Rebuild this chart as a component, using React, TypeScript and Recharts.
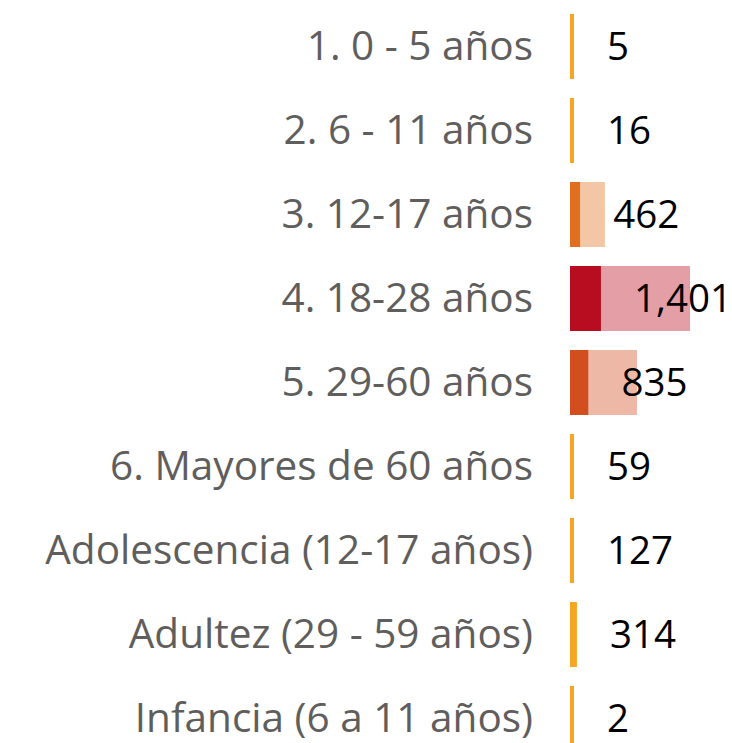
import React from "react";
import { BarChart, Bar, XAxis, YAxis, Cell, LabelList } from "recharts";

const categories = [
  "1. 0 - 5 años",
  "2. 6 - 11 años",
  "3. 12-17 años",
  "4. 18-28 años",
  "5. 29-60 años",
  "6. Mayores de 60 años",
  "Adolescencia (12-17 años)",
  "Adultez (29 - 59 años)",
  "Infancia (6 a 11 años)",
];
const highlighted = [5, 16, 462, 1401, 835, 59, 127, 314, 2];
const totals = [5, 16, 1580, 5430, 3030, 59, 127, 314, 2];
const colors = [
  "#F5A623",
  "#F5A623",
  "#E0701F",
  "#B80D20",
  "#D24E1E",
  "#F5A623",
  "#F5A623",
  "#F5A623",
  "#F5A623",
];

const data = categories.map((name, i) => ({
  name,
  value: highlighted[i],
  rest: totals[i] - highlighted[i],
}));

const FONT = "'Open Sans', 'Noto Sans', sans-serif";

export default function App() {
  return (
    <div style={{ position: "absolute", left: 0, top: 0 }}>
      <BarChart
        width={732}
        height={760}
        data={data}
        layout="vertical"
        margin={{ top: 4, right: 0, bottom: 0, left: 0 }}
      >
        <XAxis type="number" hide domain={[0, 7330]} />
        <YAxis
          type="category"
          dataKey="name"
          width={570}
          axisLine={false}
          tickLine={false}
          tickSize={0}
          tickMargin={37}
          interval={0}
          tick={{ fill: "#605E5C", fontSize: 40.5, fontFamily: FONT }}
        />
        <Bar
          dataKey="value"
          stackId="a"
          barSize={65}
          minPointSize={4}
          isAnimationActive={false}
        >
          {data.map((d, i) => (
            <Cell key={i} fill={colors[i]} />
          ))}
          <LabelList
            dataKey="value"
            position="right"
            offset={33}
            formatter={(v: number) => v.toLocaleString("en-US")}
            style={{ fill: "#000000", fontSize: 38.5, fontFamily: FONT }}
          />
        </Bar>
        <Bar dataKey="rest" stackId="a" barSize={65} isAnimationActive={false}>
          {data.map((d, i) => (
            <Cell key={i} fill={colors[i]} fillOpacity={0.4} />
          ))}
        </Bar>
      </BarChart>
    </div>
  );
}
